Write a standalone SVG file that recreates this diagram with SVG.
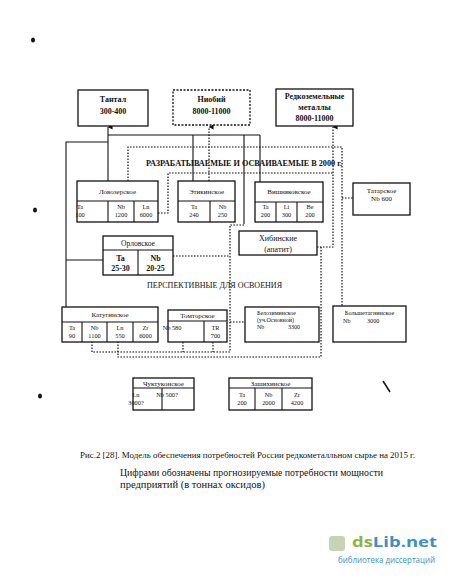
<svg xmlns="http://www.w3.org/2000/svg" width="450" height="582" viewBox="0 0 450 582">
<style>
.b{fill:#fff;stroke:#111;stroke-width:1.3}
.bd{fill:#fff;stroke:#111;stroke-width:1.3;stroke-dasharray:2 1.5}
.l{fill:none;stroke:#111;stroke-width:1.1}
.d{fill:none;stroke:#111;stroke-width:1.2;stroke-dasharray:1.6 1.4}
.t{font-family:"Liberation Serif",serif;fill:#111}
.h{font-size:8px;font-weight:bold;text-anchor:middle}
.n{font-size:7px;text-anchor:middle}
.s{font-size:6.3px;text-anchor:middle}
</style>
<defs>
<marker id="ar" viewBox="0 0 6 6" refX="3" refY="0.5" markerWidth="5" markerHeight="5" orient="auto-start-reverse" markerUnits="userSpaceOnUse">
<path d="M0,6 L3,0 L6,6 Z" fill="#111"/>
</marker>
</defs>
<rect width="450" height="582" fill="#fff"/>

<g id="connectors">
<path class="l" d="M108,181 V127" marker-end="url(#ar)"/>
<path class="l" d="M108,135 H260 M193,135 V181 M244,135 V224 M260,135 V182"/>
<path class="l" d="M108,142 H66 V307 M66,260 H103"/>
<path class="d" d="M128,181 V147 H342 V306 M342,198 H353"/>
<path class="d" d="M209,181 V127" marker-end="url(#ar)"/>
<path class="d" d="M158,213 H168 V173 H333"/>
<path class="d" d="M317,247 H333 V127" marker-end="url(#ar)"/>
<path class="d" d="M321,247 V357 H118 V342"/>
<path class="d" d="M244,225 H230 V352 H92 V342 M183,342 V352 M213,342 V352"/>
<path class="d" d="M173,256 H230 M230,322 H245"/>
</g>

<g id="tantal">
<rect class="b" x="78" y="90" width="70" height="36"/>
<text class="t h" x="113" y="102">Тантал</text>
<text class="t h" x="113" y="114">300-400</text>
</g>
<g id="niobiy">
<rect class="bd" x="173" y="90" width="77" height="35"/>
<text class="t h" x="211.5" y="102">Ниобий</text>
<text class="t h" x="211.5" y="114">8000-11000</text>
</g>
<g id="rzm">
<rect class="b" x="276" y="89" width="77" height="37"/>
<text class="t h" x="314.5" y="99">Редкоземельные</text>
<text class="t h" x="314.5" y="110">металлы</text>
<text class="t h" x="314.5" y="121">8000-11000</text>
</g>

<text class="t" x="146" y="166" font-size="8" font-weight="bold" textLength="196" lengthAdjust="spacingAndGlyphs">РАЗРАБАТЫВАЕМЫЕ И ОСВАИВАЕМЫЕ В 2000 г.</text>
<text class="t" x="147" y="288" font-size="8" textLength="135" lengthAdjust="spacingAndGlyphs">ПЕРСПЕКТИВНЫЕ ДЛЯ ОСВОЕНИЯ</text>

<g id="lovozerskoe">
<rect class="b" x="77" y="181" width="81" height="41"/>
<path class="l" d="M77,201 H158 M108,201 V222 M134,201 V222"/>
<text class="t n" x="117.5" y="194">Ловозерское</text>
<text class="t s" x="80" y="209" text-anchor="start">Ta</text>
<text class="t s" x="80" y="217" text-anchor="start">100</text>
<text class="t s" x="121" y="209">Nb</text>
<text class="t s" x="121" y="217">1200</text>
<text class="t s" x="146" y="209">Ln</text>
<text class="t s" x="146" y="217">6000</text>
</g>
<g id="etikinskoe">
<rect class="b" x="178" y="181" width="57" height="41"/>
<path class="l" d="M178,201 H235 M210,201 V222"/>
<text class="t n" x="206.5" y="194">Этикинское</text>
<text class="t s" x="194" y="209">Ta</text>
<text class="t s" x="194" y="217">240</text>
<text class="t s" x="222.5" y="209">Nb</text>
<text class="t s" x="222.5" y="217">250</text>
</g>
<g id="vishnyakovskoe">
<rect class="b" x="255" y="182" width="68" height="40"/>
<path class="l" d="M255,202 H323 M276,202 V222 M297,202 V222"/>
<text class="t n" x="289" y="194">Вишняковское</text>
<text class="t s" x="265.5" y="209">Ta</text>
<text class="t s" x="265.5" y="217">200</text>
<text class="t s" x="286.5" y="209">Li</text>
<text class="t s" x="286.5" y="217">300</text>
<text class="t s" x="310" y="209">Be</text>
<text class="t s" x="310" y="217">200</text>
</g>
<g id="tatarskoe">
<rect class="b" x="353" y="183" width="57" height="32"/>
<text class="t n" x="381.5" y="193">Татарское</text>
<text class="t n" x="381.5" y="201">Nb 600</text>
</g>
<g id="orlovskoe">
<rect class="b" x="103" y="236" width="70" height="39"/>
<path class="l" d="M103,250 H173 M138,250 V275"/>
<text class="t" x="138" y="246" font-size="7.5" text-anchor="middle">Орловское</text>
<text class="t h" x="120.5" y="261">Ta</text>
<text class="t h" x="120.5" y="271">25-30</text>
<text class="t h" x="155.5" y="261">Nb</text>
<text class="t h" x="155.5" y="271">20-25</text>
</g>
<g id="khibinskie">
<rect class="b" x="239" y="231" width="78" height="24"/>
<text class="t" x="278" y="241" font-size="8" text-anchor="middle">Хибинские</text>
<text class="t" x="278" y="252" font-size="8" text-anchor="middle">(апатит)</text>
</g>
<g id="katuginskoe">
<rect class="b" x="62" y="307" width="96" height="35"/>
<path class="l" d="M62,322 H158 M82,322 V342 M107,322 V342 M133,322 V342"/>
<text class="t n" x="110" y="317">Катугинское</text>
<text class="t s" x="72" y="330">Ta</text>
<text class="t s" x="72" y="338">90</text>
<text class="t s" x="94.5" y="330">Nb</text>
<text class="t s" x="94.5" y="338">1100</text>
<text class="t s" x="120" y="330">Ln</text>
<text class="t s" x="120" y="338">550</text>
<text class="t s" x="145.5" y="330">Zr</text>
<text class="t s" x="145.5" y="338">6000</text>
</g>
<g id="tomtorskoe">
<rect class="b" x="168" y="310" width="59" height="32"/>
<path class="l" d="M168,321 H227 M204,321 V342"/>
<text class="t n" x="197.5" y="318">Томторское</text>
<text class="t s" x="172" y="330" text-anchor="start">Nb   580</text>
<text class="t s" x="215.5" y="330">TR</text>
<text class="t s" x="215.5" y="338">700</text>
</g>
<g id="belozIminskoe">
<rect class="b" x="245" y="307" width="74" height="35"/>
<text class="t" x="257" y="315" font-size="6">Белозиминское</text>
<text class="t" x="257" y="322" font-size="6">(уч.Основной)</text>
<text class="t" x="257" y="329" font-size="6">Nb</text>
<text class="t" x="288" y="329" font-size="6">3300</text>
</g>
<g id="bolshetagninskoe">
<rect class="b" x="333" y="306" width="73" height="36"/>
<text class="t" x="369.5" y="315" font-size="6.2" text-anchor="middle">Большетагнинское</text>
<text class="t" x="343" y="323" font-size="6.2">Nb</text>
<text class="t" x="367" y="323" font-size="6.2">3000</text>
</g>
<g id="chuktukonskoe">
<rect class="b" x="133" y="378" width="61" height="32"/>
<path class="l" d="M133,388 H194 M162,388 V410"/>
<text class="t n" x="163.5" y="386">Чуктуконское</text>
<text class="t s" x="136" y="397" text-anchor="start">Ln</text>
<text class="t s" x="136" y="405" text-anchor="start">3000?</text>
<text class="t s" x="167" y="397" text-anchor="start">Nb  500?</text>
</g>
<g id="zashikhinskoe">
<rect class="b" x="229" y="378" width="83" height="32"/>
<path class="l" d="M229,388 H312 M255,388 V410 M282,388 V410"/>
<text class="t n" x="270.5" y="386">Зашихинское</text>
<text class="t s" x="242" y="397">Ta</text>
<text class="t s" x="242" y="405">200</text>
<text class="t s" x="268.5" y="397">Nb</text>
<text class="t s" x="268.5" y="405">2000</text>
<text class="t s" x="297" y="397">Zr</text>
<text class="t s" x="297" y="405">4200</text>
</g>

<text class="t" x="80" y="458" font-size="8.5" textLength="335" lengthAdjust="spacingAndGlyphs">Рис.2 [28]. Модель обеспечения потребностей России  редкометалльном сырье на 2015 г.</text>
<text class="t" x="120" y="476" font-size="10" textLength="263" lengthAdjust="spacingAndGlyphs">Цифрами обозначены прогнозируемые потребности мощности</text>
<text class="t" x="120" y="488" font-size="10" textLength="145" lengthAdjust="spacingAndGlyphs">предприятий (в тоннах оксидов)</text>

<g id="marks" fill="#111">
<ellipse cx="33" cy="40" rx="2" ry="2.5"/>
<ellipse cx="35" cy="210" rx="2" ry="2.5"/>
<ellipse cx="40" cy="396" rx="2" ry="2.5"/>
<path d="M383,381 L390,392" stroke="#111" stroke-width="1.5"/>
</g>

<g id="watermark">
<rect x="329" y="536" width="16" height="15" rx="3" fill="#b9c8a0" opacity="0.8"/>
<text x="352" y="547" font-family="'Open Sans',sans-serif" font-size="14" font-weight="bold" textLength="85" lengthAdjust="spacingAndGlyphs"><tspan fill="#8ab53c">ds</tspan><tspan fill="#3d8fc4">Lib.net</tspan></text>
<text x="338" y="563" font-family="'Open Sans',sans-serif" font-size="8.5" fill="#3d8fc4" textLength="97" lengthAdjust="spacingAndGlyphs">библиотека диссертаций</text>
</g>
</svg>
